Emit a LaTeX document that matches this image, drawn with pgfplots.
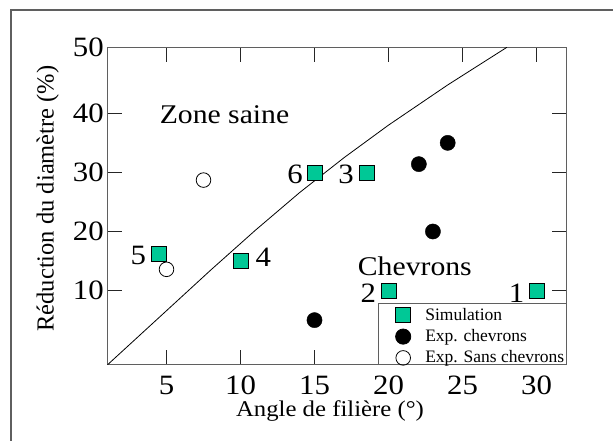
\documentclass[border=0pt]{standalone}
\usepackage{fontspec}
\setmainfont{Liberation Serif}
\newfontfamily\wide{Liberation Serif}[FakeStretch=1.1]
\usepackage{pgfplots}
\pgfplotsset{compat=1.18}
\definecolor{simcol}{RGB}{0,200,150}
\definecolor{axgray}{RGB}{95,95,95}
\begin{document}
\begin{tikzpicture}[x=1pt,y=1pt]
\useasboundingbox (0,0) rectangle (613,441);
\draw[axgray, line width=1.2pt] (11,-5) -- (11,431) -- (620,431);
\begin{axis}[
  at={(107.3pt,76pt)}, anchor=south west,
  scale only axis, width=459.4pt, height=317.7pt,
  xmin=1, xmax=32.04, ymin=-2.59, ymax=51.17,
  xtick={5,10,...,30},
  ytick={10,20,30,40,51.17}, yticklabels={10,20,30,40,50},
  tick align=inside, major tick length=15pt,
  axis line style={axgray, line width=1pt},
  every tick/.style={black!85, line width=0.9pt},
  /pgf/number format/assume math mode=true,
  tick label style={font=\wide\fontsize{28}{30}\selectfont},
  xticklabel style={inner sep=0pt, yshift=-11pt},
  yticklabel style={xshift=0pt},
  xlabel={Angle de filière (°)},
  xlabel style={font=\wide\fontsize{22.5}{24}\selectfont, inner sep=0pt, at={(axis description cs:0.4848,0)}, anchor=base, yshift=-52pt},
  ylabel={Réduction du diamètre (\%)},
  ylabel style={font=\fontsize{24.5}{26}\selectfont, at={(axis description cs:-0.117,0.524)}, anchor=base},
  legend cell align=left,
  legend style={at={(axis description cs:1,0)}, anchor=south east,
    draw=axgray, line width=0.8pt, fill=white,
    font=\fontsize{17.5}{17.5}\selectfont,
    inner xsep=2pt, inner ysep=1.5pt, row sep=5.9pt,
    nodes={inner xsep=0pt, inner ysep=0pt, text height=15.2pt, text depth=0.2pt}},
  legend image code/.code={%
    \path (0pt,0pt) (44pt,0pt);
    \draw[#1, overlay] plot coordinates {(22.3pt,-2.5pt)};},
]
\addplot[only marks, mark=square*, mark size=7.5pt,
  mark options={fill=simcol, draw=black, line width=0.6pt}]
  coordinates {(30,10) (20,10) (18.5,30) (10,15) (4.5,16.3) (15,30)};
\addlegendentry{Simulation}
\addplot[only marks, mark=*, mark size=7.6pt,
  mark options={fill=black, draw=black}]
  coordinates {(15,5) (22.05,31.4) (24,35) (23,20)};
\addlegendentry{Exp. chevrons}
\addplot[only marks, mark=o, mark size=7.3pt,
  mark options={fill=white, draw=black, line width=0.8pt}]
  coordinates {(7.5,28.7) (5,13.6)};
\addlegendentry{Exp. Sans chevrons}
\addplot[black, line width=0.8pt, forget plot]
  coordinates {(1,-2.59) (5,6.6) (8,13.5) (11,20.2) (14,26.6) (17,32.5) (20,38.0) (24,44.8) (28,51.17)};
\node[font=\wide\fontsize{27}{29}\selectfont, anchor=base] at (axis cs:8.92,38.2) {Zone saine};
\node[font=\wide\fontsize{27}{29}\selectfont, anchor=base] at (axis cs:21.78,12.5) {Chevrons};
\node[font=\wide\fontsize{28}{30}\selectfont, inner sep=0pt] at (axis cs:3.09,15.9) {5};
\node[font=\wide\fontsize{28}{30}\selectfont, inner sep=0pt] at (axis cs:11.54,15.7) {4};
\node[font=\wide\fontsize{28}{30}\selectfont, inner sep=0pt] at (axis cs:13.68,29.6) {6};
\node[font=\wide\fontsize{28}{30}\selectfont, inner sep=0pt] at (axis cs:17.13,29.6) {3};
\node[font=\wide\fontsize{28}{30}\selectfont, inner sep=0pt] at (axis cs:18.64,9.54) {2};
\node[font=\wide\fontsize{28}{30}\selectfont, inner sep=0pt] at (axis cs:28.66,9.54) {1};
\end{axis}
\end{tikzpicture}
\end{document}
